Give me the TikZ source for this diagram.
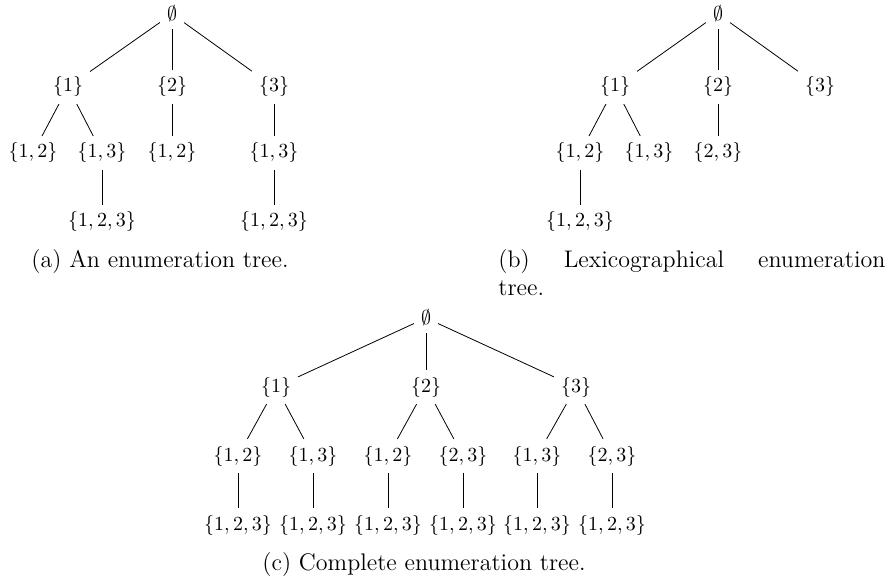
\documentclass[tikz,border=0pt]{standalone}
\usetikzlibrary{positioning, calc}
\tikzset{
set/.style={inner sep=0.3333em}, % every element of a tree is a set
caption/.style={anchor=base, inner sep=0pt, font=\large}, % the line under each tree
}
\begin{document}
\begin{tikzpicture}[x=0.5pt, y=-0.5pt]
\useasboundingbox (0,0) rectangle (886,582);

% (a) an enumeration tree
\node[set] (a) at (172,14) {$\emptyset$};
\node[set] (a1) at (68,87) {$\{1\}$};
\node[set] (a2) at (172,87) {$\{2\}$};
\node[set] (a3) at (274,87) {$\{3\}$};
\node[set] (a11) at (33,153) {$\{1,2\}$};
\node[set] (a12) at (102,153) {$\{1,3\}$};
\node[set] (a21) at (172,153) {$\{1,2\}$};
\node[set] (a31) at (274,153) {$\{1,3\}$};
\node[set] (a121) at (102,222) {$\{1,2,3\}$};
\node[set] (a311) at (274,222) {$\{1,2,3\}$};
\foreach \u/\v in {a/a1, a/a2, a/a3, a1/a11, a1/a12, a2/a21, a3/a31, a12/a121, a31/a311}
  \draw (\u) -- (\v);
\node[caption] (capa) at (160,267) {(a) An enumeration tree.};

% (b) lexicographical enumeration tree
\node[set] (b) at (718,14) {$\emptyset$};
\node[set] (b1) at (615,87) {$\{1\}$};
\node[set] (b2) at (718,87) {$\{2\}$};
\node[set] (b3) at (820,87) {$\{3\}$};
\node[set] (b11) at (580,153) {$\{1,2\}$};
\node[set] (b12) at (649,153) {$\{1,3\}$};
\node[set] (b21) at (718,153) {$\{2,3\}$};
\node[set] (b111) at (580,222) {$\{1,2,3\}$};
\foreach \u/\v in {b/b1, b/b2, b/b3, b1/b11, b1/b12, b2/b21, b11/b111}
  \draw (\u) -- (\v);
\node[caption, anchor=base west, text width=193.5pt, align=left] (capb) at (498,267)
  {(b)\hfill Lexicographical\hfill enumeration\\tree.};

% (c) complete enumeration tree
\node[set] (c) at (426,318) {$\emptyset$};
\node[set] (c1) at (276,387) {$\{1\}$};
\node[set] (c2) at (426,387) {$\{2\}$};
\node[set] (c3) at (576,387) {$\{3\}$};
\node[set] (c11) at (238,456) {$\{1,2\}$};
\node[set] (c12) at (313,456) {$\{1,3\}$};
\node[set] (c21) at (388,456) {$\{1,2\}$};
\node[set] (c22) at (463,456) {$\{2,3\}$};
\node[set] (c31) at (537,456) {$\{1,3\}$};
\node[set] (c32) at (612,456) {$\{2,3\}$};
\foreach \n in {11,12,21,22,31,32}
  \node[set] (c\n1) at ($(c\n)+(0,69)$) {$\{1,2,3\}$};
\foreach \u/\v in {c/c1, c/c2, c/c3, c1/c11, c1/c12, c2/c21, c2/c22, c3/c31, c3/c32}
  \draw (\u) -- (\v);
\foreach \n in {11,12,21,22,31,32}
  \draw (c\n) -- (c\n1);
\node[caption] (capc) at (424,570) {(c) Complete enumeration tree.};
\end{tikzpicture}
\end{document}
